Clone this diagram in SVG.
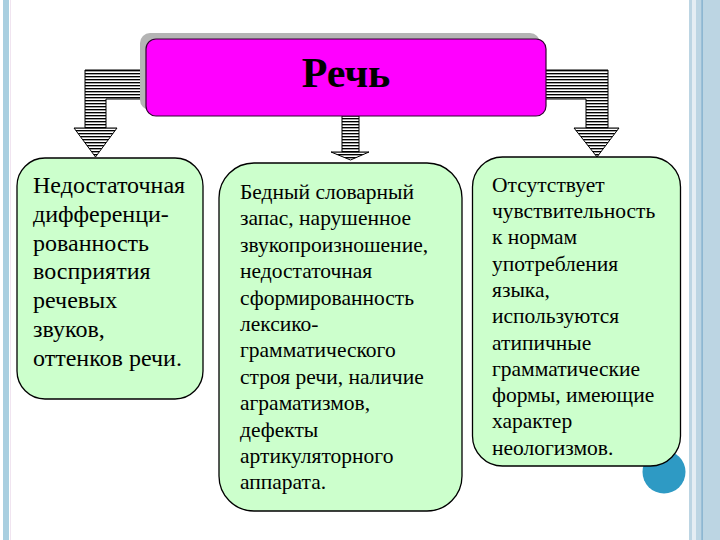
<svg xmlns="http://www.w3.org/2000/svg" width="720" height="540" viewBox="0 0 720 540">
<defs>
<pattern id="stripes" patternUnits="userSpaceOnUse" x="0" y="70" width="4" height="3">
<rect x="0" y="0" width="4" height="1.6" fill="#000"/>
<rect x="0" y="1.6" width="4" height="1.4" fill="#fff"/>
</pattern>
<style>
.arrow{fill:url(#stripes);stroke:#000;stroke-width:1}
.box{fill:#ccffcc;stroke:#000;stroke-width:1.3}
.t{font-family:'Liberation Serif','Times New Roman',serif;fill:#000}
.t1{font-size:24px}
.t2{font-size:21.5px}
.title{font-family:'Liberation Serif','Times New Roman',serif;font-size:42px;font-weight:bold;fill:#000}
</style>
</defs>
<rect x="0" y="0" width="720" height="540" fill="#fff"/>
<g id="frame">
<rect x="3" y="0" width="6" height="540" fill="#a9cfe0"/>
<rect x="10" y="0" width="1" height="540" fill="#f0e4f0"/>
<rect x="689" y="0" width="31" height="540" fill="#bcd5e3"/>
<rect x="692" y="0" width="4" height="540" fill="#e4edf3"/>
<rect x="701.5" y="0" width="1.2" height="540" fill="#7aaacb"/>
</g>
<g id="connectors">
<polygon class="arrow" points="146,70 85,70 85,128 106,128 106,99 146,99"/>
<polygon class="arrow" points="74,128 117,128 95.5,157"/>
<polygon class="arrow" points="545,70 608,70 608,128 586,128 586,99 545,99"/>
<polygon class="arrow" points="574,128 619,128 597,157"/>
<rect class="arrow" x="342" y="116" width="17" height="36"/>
<polygon class="arrow" points="331,152 369,152 350.5,160"/>
</g>
<g id="root">
<rect x="140" y="33" width="400" height="77" rx="10" fill="#b4b4b4"/>
<rect x="146" y="39" width="400" height="77" rx="10" fill="#ff00ff" stroke="#330033" stroke-width="1.2"/>
<text class="title" x="346" y="87" text-anchor="middle">Речь</text>
</g>
<g id="node-left">
<rect class="box" x="17" y="158" width="186" height="241" rx="28"/>
<text class="t t1">
<tspan x="33" y="193">Недостаточная</tspan>
<tspan x="33" y="221.8">дифференци-</tspan>
<tspan x="33" y="250.6">рованность</tspan>
<tspan x="33" y="279.4">восприятия</tspan>
<tspan x="33" y="308.2">речевых</tspan>
<tspan x="33" y="337">звуков,</tspan>
<tspan x="33" y="365.8">оттенков речи.</tspan>
</text>
</g>
<g id="node-middle">
<rect class="box" x="219" y="163" width="243" height="348" rx="35"/>
<text class="t t2">
<tspan x="240" y="199">Бедный словарный</tspan>
<tspan x="240" y="225.4">запас, нарушенное</tspan>
<tspan x="240" y="251.8">звукопроизношение,</tspan>
<tspan x="240" y="278.2">недостаточная</tspan>
<tspan x="240" y="304.6">сформированность</tspan>
<tspan x="240" y="331">лексико-</tspan>
<tspan x="240" y="357.4">грамматического</tspan>
<tspan x="240" y="383.8">строя речи, наличие</tspan>
<tspan x="240" y="410.2">аграматизмов,</tspan>
<tspan x="240" y="436.6">дефекты</tspan>
<tspan x="240" y="463">артикуляторного</tspan>
<tspan x="240" y="489.4">аппарата.</tspan>
</text>
</g>
<g id="node-right">
<circle cx="664" cy="472" r="21.5" fill="#2e9ac4"/>
<rect class="box" x="472.5" y="157" width="208" height="309" rx="30"/>
<text class="t t2">
<tspan x="492" y="191.7">Отсутствует</tspan>
<tspan x="492" y="218">чувствительность</tspan>
<tspan x="492" y="244.3">к нормам</tspan>
<tspan x="492" y="270.6">употребления</tspan>
<tspan x="492" y="296.9">языка,</tspan>
<tspan x="492" y="323.2">используются</tspan>
<tspan x="492" y="349.5">атипичные</tspan>
<tspan x="492" y="375.8">грамматические</tspan>
<tspan x="492" y="402.1">формы, имеющие</tspan>
<tspan x="492" y="428.4">характер</tspan>
<tspan x="492" y="454.7">неологизмов.</tspan>
</text>
</g>
</svg>
